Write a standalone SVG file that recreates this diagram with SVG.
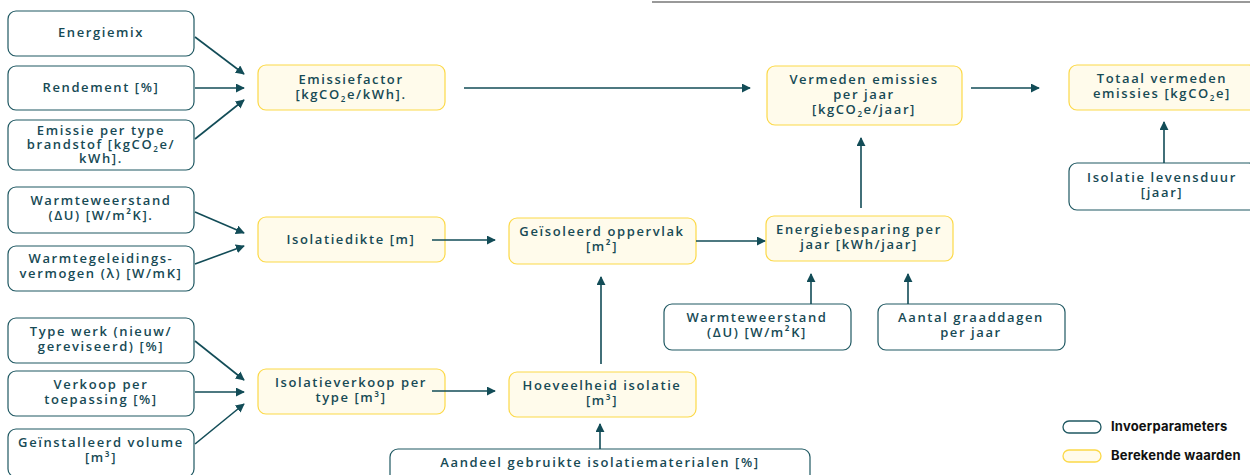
<svg xmlns="http://www.w3.org/2000/svg" width="1250" height="475" viewBox="0 0 1250 475">
<style>
.in{fill:#fff;stroke:#1f5862;stroke-width:1.2}
.calc{fill:#fffbeb;stroke:#fcd948;stroke-width:1.2}
.t{font-family:"Open Sans","Liberation Sans",sans-serif;font-size:13px;font-weight:600;fill:#174a55;letter-spacing:1.6px;text-anchor:middle}
.lg{font-family:Inter,"Liberation Sans",sans-serif;font-size:13px;font-weight:700;fill:#111;letter-spacing:0.2px}
.c line{stroke:#124c57;stroke-width:1.6;marker-end:url(#ah)}
</style>
<defs>
<marker id="ah" viewBox="0 0 10 10" refX="9" refY="5" markerWidth="9" markerHeight="9" markerUnits="userSpaceOnUse" orient="auto"><path d="M0,0 L10,5 L0,10 z" fill="#124c57"/></marker>
</defs>
<rect width="1250" height="475" fill="#fff"/>
<line x1="652" y1="2" x2="1250" y2="2" stroke="#777" stroke-width="1.5"/>

<g id="energiemix"><rect class="in" x="8" y="11" width="186" height="45" rx="8"/><text class="t" x="101" y="37">Energiemix</text></g>
<g id="rendement"><rect class="in" x="8" y="66" width="186" height="44" rx="8"/><text class="t" x="101" y="92">Rendement [%]</text></g>
<g id="emissie-type"><rect class="in" x="8" y="120" width="186" height="50" rx="8"/><text class="t" x="101" y="135">Emissie per type</text><text class="t" x="101" y="149">brandstof [kgCO<tspan font-size="8" dy="3">2</tspan><tspan dy="-3">e/</tspan></text><text class="t" x="101" y="163">kWh].</text></g>
<g id="warmteweerstand1"><rect class="in" x="8" y="187" width="186" height="46" rx="8"/><text class="t" x="101" y="205">Warmteweerstand</text><text class="t" x="101" y="220">(ΔU) [W/m²K].</text></g>
<g id="warmtegeleiding"><rect class="in" x="8" y="246" width="186" height="45" rx="8"/><text class="t" x="101" y="263">Warmtegeleidings-</text><text class="t" x="101" y="278">vermogen (λ) [W/mK]</text></g>
<g id="type-werk"><rect class="in" x="8" y="318" width="186" height="45" rx="8"/><text class="t" x="101" y="336">Type werk (nieuw/</text><text class="t" x="101" y="351">gereviseerd) [%]</text></g>
<g id="verkoop"><rect class="in" x="8" y="371" width="186" height="45" rx="8"/><text class="t" x="101" y="389">Verkoop per</text><text class="t" x="101" y="404">toepassing [%]</text></g>
<g id="geinstalleerd"><rect class="in" x="8" y="429" width="186" height="48" rx="8"/><text class="t" x="101" y="447">Geïnstalleerd volume</text><text class="t" x="101" y="462">[m³]</text></g>

<g id="emissiefactor"><rect class="calc" x="258" y="65" width="187" height="45" rx="8"/><text class="t" x="351" y="84">Emissiefactor</text><text class="t" x="351" y="99">[kgCO<tspan font-size="8" dy="3">2</tspan><tspan dy="-3">e/kWh].</tspan></text></g>
<g id="isolatiedikte"><rect class="calc" x="258" y="217" width="187" height="45" rx="8"/><text class="t" x="351" y="244">Isolatiedikte [m]</text></g>
<g id="isolatieverkoop"><rect class="calc" x="258" y="369" width="187" height="45" rx="8"/><text class="t" x="351" y="387">Isolatieverkoop per</text><text class="t" x="351" y="402">type [m³]</text></g>
<g id="geisoleerd"><rect class="calc" x="509" y="218" width="187" height="46" rx="8"/><text class="t" x="602" y="236">Geïsoleerd oppervlak</text><text class="t" x="602" y="251">[m²]</text></g>
<g id="hoeveelheid"><rect class="calc" x="509" y="372" width="187" height="45" rx="8"/><text class="t" x="602" y="390">Hoeveelheid isolatie</text><text class="t" x="602" y="405">[m³]</text></g>
<g id="energiebesparing"><rect class="calc" x="766" y="216" width="187" height="45" rx="8"/><text class="t" x="859" y="234">Energiebesparing per</text><text class="t" x="859" y="249">jaar [kWh/jaar]</text></g>
<g id="vermeden"><rect class="calc" x="767" y="66" width="195" height="59" rx="8"/><text class="t" x="864" y="84">Vermeden emissies</text><text class="t" x="864" y="99">per jaar</text><text class="t" x="864" y="114">[kgCO<tspan font-size="8" dy="3">2</tspan><tspan dy="-3">e/jaar]</tspan></text></g>
<g id="totaal"><rect class="calc" x="1069" y="65" width="188" height="45" rx="8"/><text class="t" x="1162" y="83">Totaal vermeden</text><text class="t" x="1162" y="98">emissies [kgCO<tspan font-size="8" dy="3">2</tspan><tspan dy="-3">e]</tspan></text></g>
<g id="levensduur"><rect class="in" x="1069" y="163" width="188" height="47" rx="8"/><text class="t" x="1162" y="182">Isolatie levensduur</text><text class="t" x="1162" y="197">[jaar]</text></g>
<g id="warmteweerstand2"><rect class="in" x="664" y="304" width="187" height="46" rx="8"/><text class="t" x="757" y="322">Warmteweerstand</text><text class="t" x="757" y="337">(ΔU) [W/m²K]</text></g>
<g id="graaddagen"><rect class="in" x="878" y="304" width="187" height="46" rx="8"/><text class="t" x="971" y="322">Aantal graaddagen</text><text class="t" x="971" y="337">per jaar</text></g>
<g id="aandeel"><rect class="in" x="390" y="449" width="420" height="40" rx="8"/><text class="t" x="600" y="467">Aandeel gebruikte isolatiematerialen [%]</text></g>

<g class="c" id="connectors">
<line x1="195" y1="37" x2="244" y2="74"/>
<line x1="195" y1="88" x2="244" y2="88"/>
<line x1="195" y1="139" x2="244" y2="100"/>
<line x1="464" y1="88" x2="750" y2="88"/>
<line x1="971" y1="88" x2="1039" y2="88"/>
<line x1="1164" y1="163" x2="1164" y2="122"/>
<line x1="195" y1="212" x2="244" y2="233"/>
<line x1="195" y1="264" x2="244" y2="246"/>
<line x1="432" y1="240" x2="495" y2="240"/>
<line x1="696" y1="241" x2="765" y2="241"/>
<line x1="861" y1="208" x2="861" y2="138"/>
<line x1="811" y1="304" x2="811" y2="274"/>
<line x1="908" y1="304" x2="908" y2="274"/>
<line x1="195" y1="341" x2="244" y2="380"/>
<line x1="195" y1="392" x2="244" y2="392"/>
<line x1="195" y1="444" x2="244" y2="404"/>
<line x1="432" y1="391" x2="495" y2="391"/>
<line x1="601" y1="364" x2="601" y2="277"/>
<line x1="600" y1="449" x2="600" y2="424"/>
</g>

<g id="legend">
<rect x="1063" y="421" width="38" height="12" rx="6" fill="#fff" stroke="#1f5862" stroke-width="1.3"/>
<text class="lg" x="1111" y="431">Invoerparameters</text>
<rect x="1063" y="450" width="38" height="12" rx="6" fill="#fffbeb" stroke="#fcd948" stroke-width="1.3"/>
<text class="lg" x="1111" y="460">Berekende waarden</text>
</g>
</svg>
